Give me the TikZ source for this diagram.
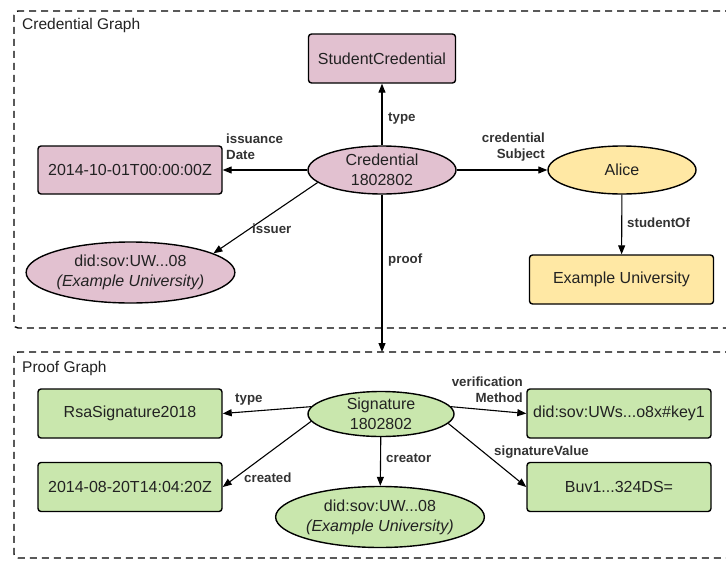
\documentclass[tikz,border=0pt]{standalone}
\usepackage{fontspec}
\setmainfont{Liberation Sans}
\usetikzlibrary{arrows.meta,shapes.geometric}
\definecolor{pinkfill}{HTML}{E2C1D0}
\definecolor{yellowfill}{HTML}{FFE8A4}
\definecolor{greenfill}{HTML}{C9E7AD}
\definecolor{lblcol}{HTML}{333333}
\definecolor{txtcol}{HTML}{222222}
\begin{document}
\begin{tikzpicture}[x=1pt,y=-1pt,
  box/.style={draw=black, line width=1.4pt, rounded corners=3pt, minimum width=184pt, minimum height=48pt, inner sep=0pt, font=\fontsize{16}{20}\selectfont, text=txtcol, align=center},
  ell/.style={ellipse, draw=black, line width=1.4pt, inner sep=0pt, font=\fontsize{16}{20}\selectfont, text=txtcol, align=center},
  lbl/.style={font=\fontsize{13.3}{16}\selectfont\bfseries, text=lblcol, inner sep=0pt},
  conn/.style={line width=1.1pt, -{Triangle[length=9pt,width=7pt]}},
  frame/.style={draw=black, line width=1.4pt, dash pattern=on 7pt off 5pt, rounded corners=4pt, inner sep=0pt, outer sep=0pt},
  title/.style={font=\fontsize{15.5}{18}\selectfont, text=txtcol, inner sep=0pt, anchor=west}]
\useasboundingbox (0,0) rectangle (726,560);
\clip (0,0) rectangle (726,560);
\fill[white] (0,0) rectangle (726,560);

% frames
\node[frame, minimum width=746pt, minimum height=317pt] (cg) at (387,169.5) {};
\node[frame, minimum width=746pt, minimum height=206pt] (pg) at (387,455) {};
\node[title] (cgt) at (22,25) {Credential Graph};
\node[title] (pgt) at (22,368) {Proof Graph};

% credential graph nodes
\node[box, fill=pinkfill, minimum width=147pt, minimum height=49pt] (sc) at (382,58.5) {StudentCredential};
\node[ell, fill=pinkfill, minimum width=148pt, minimum height=48pt] (cred) at (382,170) {Credential\\1802802};
\node[box, fill=pinkfill] (date) at (130,170) {2014-10-01T00:00:00Z};
\node[ell, fill=yellowfill, minimum width=148pt, minimum height=48pt] (alice) at (622,170) {Alice};
\node[ell, fill=pinkfill, minimum width=173pt, minimum height=61pt] (did1) at (130.5,272.5) {did:sov:UW...08\\\textit{(Example University)}};
\node[box, fill=yellowfill, minimum height=49pt] (eu) at (621.5,279.5) {Example University};

% proof graph nodes
\node[ell, fill=greenfill, minimum width=146pt, minimum height=45pt] (sig) at (381,414) {Signature\\1802802};
\node[box, fill=greenfill, minimum height=49pt] (rsa) at (130,413.5) {RsaSignature2018};
\node[box, fill=greenfill, minimum height=49pt] (key) at (619,413.5) {did:sov:UWs...o8x\#key1};
\node[box, fill=greenfill, minimum height=49pt] (created) at (130,487) {2014-08-20T14:04:20Z};
\node[box, fill=greenfill, minimum height=49pt] (buv) at (619,487) {Buv1...324DS=};
\node[ell, fill=greenfill, minimum width=168pt, minimum height=61pt] (did2) at (380,517) {did:sov:UW...08\\\textit{(Example University)}};

% connectors credential graph
\draw[conn] (cred) -- (sc);
\draw[conn] (cred) -- (date);
\draw[conn] (cred) -- (alice);
\draw[conn] (cred.191) -- (did1.13);
\draw[conn] (alice) -- (eu);
\draw[conn] (cred) -- (cred |- pg.north);

% connectors proof graph
\draw[conn] (sig.174) -- (rsa.east);
\draw[conn] (sig.6) -- (key.west);
\draw[conn] (sig.186) -- (created.east);
\draw[conn] (sig.-8) -- (buv.west);
\draw[conn] (sig) -- (did2);

% labels
\node[lbl, anchor=west] (l1) at (388,119) {type};
\node[lbl, anchor=west, align=left] (l2) at (226,147) {issuance\\Date};
\node[lbl, anchor=east, align=right] (l3) at (545,147) {credential\\Subject};
\node[lbl, anchor=west] (l4) at (252,229) {issuer};
\node[lbl, anchor=west] (l5) at (388,260) {proof};
\node[lbl, anchor=west] (l6) at (627,223) {studentOf};
\node[lbl, anchor=west] (l7) at (235,400) {type};
\node[lbl, anchor=east, align=right] (l8) at (523,390) {verification\\Method};
\node[lbl, anchor=west] (l9) at (244,478) {created};
\node[lbl, anchor=west] (l10) at (386,458) {creator};
\node[lbl, anchor=west] (l11) at (494,452.5) {signatureValue};
\end{tikzpicture}
\end{document}
